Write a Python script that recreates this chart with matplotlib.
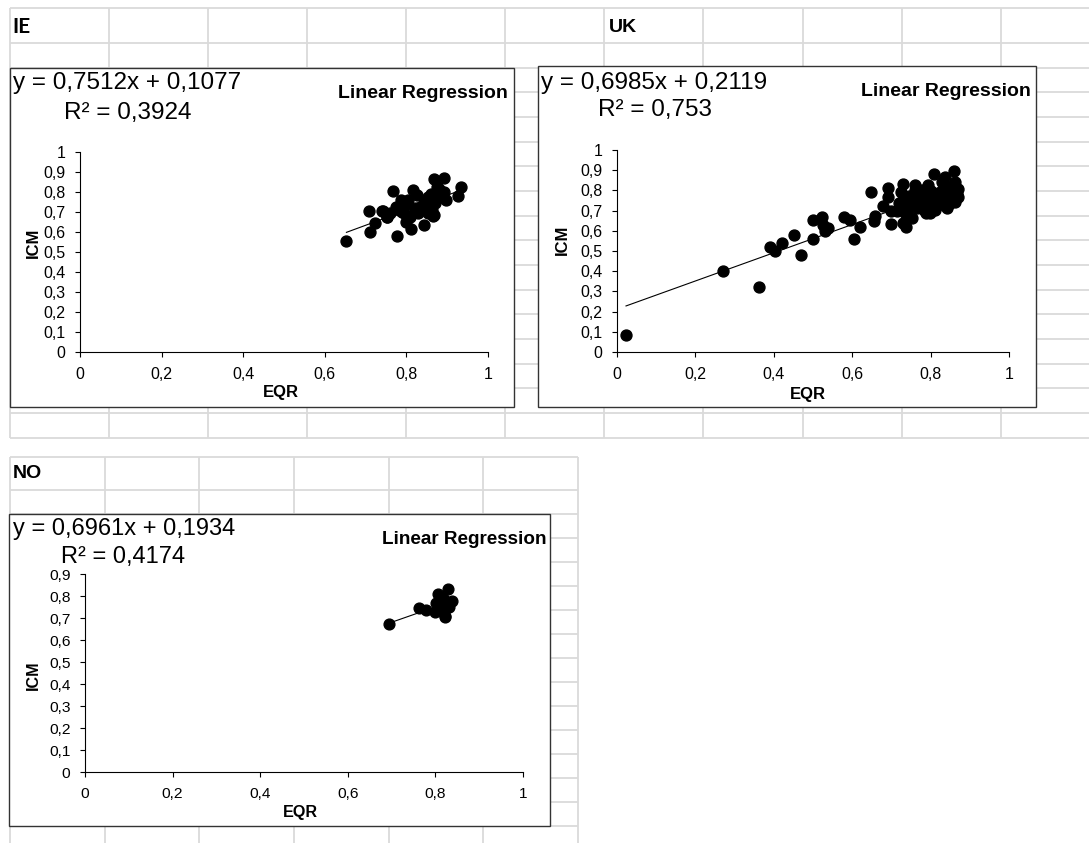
import numpy as np
import matplotlib.pyplot as plt
from matplotlib.patches import Rectangle
from matplotlib.ticker import FuncFormatter, MultipleLocator

plt.rcParams['font.family'] = ['Liberation Sans', 'DejaVu Sans']

W, H = 1089, 843

# IE
ie_eqr = [
    0.653, 0.708, 0.711, 0.723, 0.740, 0.743, 0.752, 0.753, 0.761, 0.766,
    0.774, 0.778, 0.782, 0.787, 0.790, 0.795, 0.799, 0.803, 0.808, 0.812,
    0.816, 0.820, 0.821, 0.825, 0.829, 0.834, 0.842, 0.843, 0.850, 0.854,
    0.854, 0.858, 0.863, 0.863, 0.866, 0.867, 0.868, 0.871, 0.875, 0.880,
    0.884, 0.892, 0.893, 0.896, 0.926, 0.935, 0.785, 0.800, 0.846, 0.860,
]
ie_icm = [
    0.556, 0.704, 0.601, 0.646, 0.704, 0.707, 0.677, 0.673, 0.693, 0.805,
    0.726, 0.581, 0.709, 0.759, 0.700, 0.693, 0.651, 0.759, 0.676, 0.613,
    0.812, 0.718, 0.710, 0.784, 0.693, 0.726, 0.743, 0.635, 0.734, 0.776,
    0.693, 0.760, 0.709, 0.759, 0.680, 0.684, 0.864, 0.743, 0.826, 0.817,
    0.776, 0.801, 0.870, 0.759, 0.779, 0.826, 0.720, 0.740, 0.720, 0.790,
]
ie_fit = [0.7512, 0.1077, 0.3924]

# UK
uk_eqr = [
    0.023, 0.271, 0.361, 0.391, 0.404, 0.420, 0.452, 0.470, 0.499, 0.499,
    0.522, 0.526, 0.531, 0.538, 0.579, 0.595, 0.604, 0.619, 0.649, 0.655,
    0.659, 0.679, 0.691, 0.691, 0.699, 0.698, 0.715, 0.720, 0.725, 0.729,
    0.729, 0.738, 0.743, 0.752, 0.761, 0.756, 0.765, 0.770, 0.779, 0.784,
    0.788, 0.793, 0.797, 0.802, 0.808, 0.811, 0.815, 0.825, 0.829, 0.834,
    0.838, 0.841, 0.847, 0.852, 0.859, 0.861, 0.863, 0.865, 0.870, 0.870,
    0.722, 0.733, 0.741, 0.748, 0.757, 0.763, 0.768, 0.775, 0.782, 0.790,
    0.795, 0.800, 0.806, 0.812, 0.818, 0.822, 0.828, 0.833, 0.839, 0.845,
    0.850, 0.856, 0.860, 0.866, 0.735, 0.745, 0.772, 0.786, 0.798, 0.820,
    0.836, 0.848, 0.858, 0.868, 0.760, 0.803,
]
uk_icm = [
    0.082, 0.399, 0.321, 0.522, 0.498, 0.539, 0.580, 0.479, 0.558, 0.654,
    0.667, 0.629, 0.601, 0.613, 0.667, 0.654, 0.558, 0.618, 0.794, 0.649,
    0.674, 0.723, 0.814, 0.766, 0.700, 0.633, 0.700, 0.740, 0.794, 0.832,
    0.638, 0.618, 0.728, 0.662, 0.827, 0.769, 0.712, 0.753, 0.802, 0.703,
    0.687, 0.827, 0.769, 0.736, 0.880, 0.703, 0.753, 0.794, 0.843, 0.753,
    0.868, 0.712, 0.786, 0.819, 0.898, 0.843, 0.745, 0.794, 0.806, 0.769,
    0.720, 0.760, 0.700, 0.745, 0.780, 0.735, 0.790, 0.760, 0.725, 0.775,
    0.710, 0.795, 0.760, 0.720, 0.780, 0.745, 0.770, 0.730, 0.790, 0.750,
    0.760, 0.810, 0.770, 0.790, 0.690, 0.770, 0.740, 0.800, 0.690, 0.760,
    0.800, 0.735, 0.820, 0.780, 0.800, 0.715,
]
uk_fit = [0.6985, 0.2119, 0.753]

# NO
no_eqr = [0.695, 0.763, 0.778, 0.799, 0.802, 0.806, 0.809, 0.810,
          0.814, 0.818, 0.819, 0.821, 0.822, 0.828, 0.831, 0.837]
no_icm = [0.671, 0.746, 0.735, 0.728, 0.769, 0.811, 0.760, 0.735,
          0.786, 0.790, 0.744, 0.705, 0.709, 0.830, 0.752, 0.777]
no_fit = [0.6961, 0.1934, 0.4174]

GRID = '#dadada'


def comma(v, pos=None):
    s = ('%.1f' % v).rstrip('0').rstrip('.')
    return s.replace('.', ',')


def num(v):
    return ('%.4f' % v).rstrip('0').replace('.', ',')


fig = plt.figure(figsize=(W / 100, H / 100), dpi=100)
bg = fig.add_axes([0, 0, 1, 1])
bg.set_xlim(0, W)
bg.set_ylim(H, 0)
bg.axis('off')

# spreadsheet cells, upper block
rows_top = [8, 43] + [43 + 24.67 * k for k in range(1, 17)]
for y in rows_top:
    bg.hlines(y, 10, W, color=GRID, lw=1.3)
for k in range(11):
    bg.vlines(10 + 99.07 * k, 8, 438, color=GRID, lw=1.3)

# spreadsheet cells, lower block
rows_bot = [457] + [490 + 24 * k for k in range(15)]
for y in rows_bot:
    bg.hlines(y, 10, 578, color=GRID, lw=1.3)
for k in range(7):
    bg.vlines(10 + 94.67 * k, 457, H, color=GRID, lw=1.3)

bg.text(12, 27, 'IE', fontsize=15, fontweight='bold', family='Lato', va='center')
bg.text(609, 27, 'UK', fontsize=14, fontweight='bold', va='center')
bg.text(13, 474, 'NO', fontsize=14, fontweight='bold', va='center')


def chart(box, axbox, eqr, icm, fit, ytop, txt, labels, scale=1.0):
    x0, y0, x1, y1 = box
    bg.add_patch(Rectangle((x0, y0), x1 - x0, y1 - y0, fc='white',
                           ec='#333333', lw=1.0, zorder=3))
    slope, icpt, r2 = fit
    (ex, ey), (rx, ry), (lx, ly) = txt
    bg.text(ex, ey, 'y = %sx + %s' % (num(slope), num(icpt)),
            fontsize=17.5 * scale, va='center', zorder=4)
    bg.text(rx, ry, 'R² = %s' % num(r2), fontsize=17.5 * scale, va='center', zorder=4)
    bg.text(lx, ly, 'Linear Regression', fontsize=14 * scale,
            fontweight='bold', ha='right', va='center', zorder=4)
    (qx, qy), (cx, cy) = labels
    bg.text(qx, qy, 'EQR', fontsize=12 * scale, fontweight='bold',
            ha='center', va='center', zorder=4)
    bg.text(cx, cy, 'ICM', fontsize=12 * scale, fontweight='bold',
            ha='center', va='center', rotation=90, zorder=4)

    l, r, t, b = axbox
    ax = fig.add_axes([l / W, 1 - b / H, (r - l) / W, (b - t) / H])
    ax.patch.set_alpha(0)
    ax.set_xlim(0, 1)
    ax.set_ylim(0, ytop)
    ax.scatter(eqr, icm, s=62 * scale, color='black', zorder=3, clip_on=False)
    xs = np.array([min(eqr), max(eqr)])
    ax.plot(xs, slope * xs + icpt, color='black', lw=0.8, zorder=2)
    for side in ['top', 'right']:
        ax.spines[side].set_visible(False)
    for side in ['left', 'bottom']:
        ax.spines[side].set_linewidth(0.8)
    ax.xaxis.set_major_locator(MultipleLocator(0.2))
    ax.yaxis.set_major_locator(MultipleLocator(0.1))
    ax.xaxis.set_major_formatter(FuncFormatter(comma))
    ax.yaxis.set_major_formatter(FuncFormatter(comma))
    ax.tick_params(direction='out', length=3.5, width=0.8,
                   labelsize=11.5 * scale, pad=7)
    return ax


chart((10, 68, 514, 407), (80, 488, 152, 352), ie_eqr, ie_icm, ie_fit, 1.0,
      [(13, 83), (64, 113), (508, 94)], [(281, 393), (33, 243)])
chart((538, 66, 1036, 407), (617, 1009, 150, 352), uk_eqr, uk_icm, uk_fit, 1.0,
      [(541, 83), (598, 110), (1031, 92)], [(808, 394), (562, 240)])
chart((9, 514, 550, 826), (85, 523, 574, 772), no_eqr, no_icm, no_fit, 0.9,
      [(13, 529), (61, 557), (546, 539)], [(300, 813), (33, 675)], scale=0.97)

fig.savefig('out.png', dpi=100)
